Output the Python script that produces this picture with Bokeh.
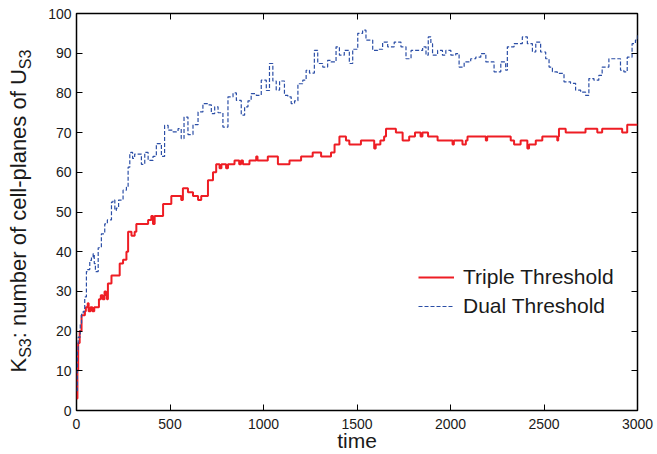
import math
from bokeh.plotting import figure
from bokeh.models import Range1d, LinearAxis, Label, FixedTicker
from bokeh.layouts import row
from bokeh.embed import file_html
from bokeh.resources import INLINE

# ---- data ----
triple_t = [0, 5, 9, 17, 27, 45, 50, 60, 65, 75, 85, 95, 120, 130, 140, 150, 158, 163, 168,
            187, 231, 249, 267, 276, 294, 311, 320, 383, 400, 409, 418, 463, 507, 560, 569,
            596, 623, 650, 667, 703, 730, 747, 765, 775, 800, 810, 845, 870, 880, 890, 925,
            961, 968, 1023, 1077, 1139, 1201, 1263, 1308, 1361, 1380, 1406, 1441, 1459, 1521,
            1592, 1600, 1625, 1645, 1655, 1708, 1744, 1779, 1810, 1840, 1850, 1880, 1931,
            2011, 2018, 2064, 2082, 2091, 2189, 2196, 2322, 2340, 2375, 2411, 2420, 2456,
            2491, 2571, 2576, 2580, 2616, 2722, 2785, 2811, 2918, 2945, 3000]
triple_k = [3, 10, 17, 20, 24, 25, 26, 27, 25, 26, 25, 26, 28, 29, 28, 30, 29, 28, 32,
            34, 37, 38, 40, 45, 44, 45, 47, 48, 49, 47, 49, 52, 54, 53, 56,
            55, 54, 53, 54, 58, 60, 62, 61, 62, 61, 62, 63, 62, 63, 62, 63,
            64, 63, 64, 62, 63, 64, 65, 64, 65, 67, 69, 68, 67, 68,
            66, 67, 68, 69, 71, 70, 68, 69, 70, 69, 70, 69, 68,
            67, 68, 67, 68, 69, 68, 69, 68, 67, 68, 66, 67, 68,
            69, 68, 69, 71, 70, 71, 70, 71, 70, 72, 72]

dual_t = [0, 5, 9, 20, 27, 36, 44, 53, 59, 71, 80, 89, 95, 101, 116, 133, 151, 165, 187, 195,
          205, 213, 225, 249, 267, 276, 285, 290, 300, 311, 347, 365, 383, 409, 427, 454, 471,
          490, 516, 543, 560, 575, 596, 623, 650, 676, 703, 721, 739, 757, 783, 810, 837, 855,
          881, 899, 917, 934, 961, 988, 1015, 1032, 1050, 1068, 1086, 1112, 1130, 1148, 1166,
          1184, 1210, 1228, 1246, 1272, 1290, 1317, 1343, 1361, 1388, 1406, 1432, 1459, 1477,
          1504, 1530, 1548, 1584, 1610, 1637, 1664, 1699, 1735, 1762, 1789, 1824, 1851, 1869,
          1881, 1895, 1904, 1931, 1957, 1975, 2002, 2028, 2046, 2073, 2108, 2135, 2162, 2189,
          2215, 2233, 2269, 2295, 2304, 2340, 2384, 2411, 2438, 2456, 2482, 2509, 2527, 2545,
          2571, 2607, 2642, 2669, 2696, 2722, 2740, 2767, 2793, 2811, 2847, 2882, 2909, 2927,
          2945, 2971, 2989, 3000]
dual_k = [5, 15, 18.5, 22, 24.4, 25, 28.6, 35, 35.5, 37.8, 38.6, 39.5, 37, 35, 41, 44.5, 47, 48,
          52.5, 53, 50.4, 51, 53, 55.5, 56.3, 61.3, 64.7, 65, 63.5, 64.6, 62, 65, 63, 64, 67.2,
          64, 71.8, 70.6, 70.2, 71, 68.5, 73.9, 69.5, 72, 75.2, 77.3, 77, 74.8, 76.5, 75, 71.4,
          79, 80, 78.1, 74.4, 76.5, 78, 79.8, 79.4, 83.2, 80.6, 87.4, 83, 80.7, 83, 79.4, 79,
          77.3, 78, 82.3, 83.2, 85.7, 85, 90.7, 87.4, 86.5, 88.2, 87.8, 91.6, 89.5, 90.7, 87.4,
          91, 95, 95.8, 93.3, 90.7, 91, 92.8, 91.6, 92.8, 91.6, 88.6, 90.7, 90.7, 91.6, 89.5,
          94.1, 92.4, 89.5, 90.7, 89.5, 90.7, 89.5, 89.9, 86.5, 87.8, 88.6, 89, 89.9, 87.8,
          87.8, 85.3, 87.8, 85.7, 91.6, 92.4, 94.1, 92.4, 90.3, 92.8, 90.3, 88.6, 86.5, 85.3,
          84.9, 82.8, 82.4, 80.7, 80.2, 79.4, 83.6, 83.2, 84.4, 86.5, 88.6, 88.6, 85.7, 85.3,
          89, 92.4, 93.3, 95]

x_ticks = [0, 500, 1000, 1500, 2000, 2500, 3000]
y_ticks = [0, 10, 20, 30, 40, 50, 60, 70, 80, 90, 100]

FONT = "Liberation Sans"
TXT = "#1a1a1a"

# ---- main chart ----
p = figure(width=612, height=454, output_backend="svg", toolbar_location=None,
           x_range=Range1d(0, 3000), y_range=Range1d(0, 100),
           min_border_left=30, min_border_right=20, min_border_top=13, min_border_bottom=44)
p.xgrid.visible = False
p.ygrid.visible = False
p.outline_line_color = "black"
p.outline_line_width = 1.5

p.step(triple_t, triple_k, mode="after", line_color="#ee1d24", line_width=2,
       legend_label="Triple Threshold")
p.step(dual_t, dual_k, mode="after", line_color="#2b4ea6", line_width=1.2,
       line_dash="4 2", legend_label="Dual Threshold")


def style_axis(ax, ticks, show_labels, standoff):
    ax.ticker = FixedTicker(ticks=ticks)
    ax.major_tick_in = 6
    ax.major_tick_out = 0
    ax.minor_tick_in = 0
    ax.minor_tick_out = 0
    ax.axis_line_color = None
    ax.major_tick_line_color = "black"
    ax.major_tick_line_width = 1
    ax.major_label_standoff = standoff
    if show_labels:
        ax.major_label_text_font = FONT
        ax.major_label_text_font_size = "14px"
        ax.major_label_text_color = TXT
    else:
        ax.major_label_overrides = {t: "" for t in ticks}
        ax.major_label_text_font_size = "1px"


style_axis(p.xaxis[0], x_ticks, True, 8)
style_axis(p.yaxis[0], y_ticks, True, 5)
p.xaxis[0].axis_label = "time"
p.xaxis[0].axis_label_text_font = FONT
p.xaxis[0].axis_label_text_font_size = "21px"
p.xaxis[0].axis_label_text_font_style = "normal"
p.xaxis[0].axis_label_text_color = TXT
p.xaxis[0].axis_label_standoff = -3

top = LinearAxis()
style_axis(top, x_ticks, False, 0)
p.add_layout(top, "above")
right = LinearAxis()
style_axis(right, y_ticks, False, 0)
p.add_layout(right, "right")

lg = p.legend[0]
lg.location = (342, 92)
lg.padding = 0
lg.margin = 0
lg.border_line_color = None
lg.background_fill_alpha = 0
lg.label_text_font = FONT
lg.label_text_font_size = "21px"
lg.label_text_color = TXT
lg.glyph_width = 36
lg.glyph_height = 24
lg.label_height = 24
lg.spacing = 5
lg.label_standoff = 9

# ---- y-axis title strip (text with subscripts) ----
# the row layout aligns this strip's frame with the chart frame (page y 13..410),
# so its y range is expressed as (454 - page y) over that span.
side = figure(width=45, height=454, output_backend="svg", toolbar_location=None,
              x_range=Range1d(0, 45), y_range=Range1d(44, 441),
              x_axis_type=None, y_axis_type=None, min_border=0)
side.xgrid.visible = False
side.ygrid.visible = False
side.outline_line_color = None

ang = math.pi / 2
pieces = [("K", 22, 18.3, 82.0),
          ("S3", 16, 25.3, 96.7),
          (": number of cell-planes of U", 22, 18.3, 116.3),
          ("S3", 16, 25.3, 385.3)]
for txt, fs, xx, yy in pieces:
    side.add_layout(Label(x=xx, y=yy, text=txt, angle=ang, text_font=FONT,
                          text_font_size=f"{fs}px", text_align="left",
                          text_baseline="alphabetic", text_color=TXT))

layout = row(side, p)
open("out.html", "w").write(file_html(layout, INLINE))
